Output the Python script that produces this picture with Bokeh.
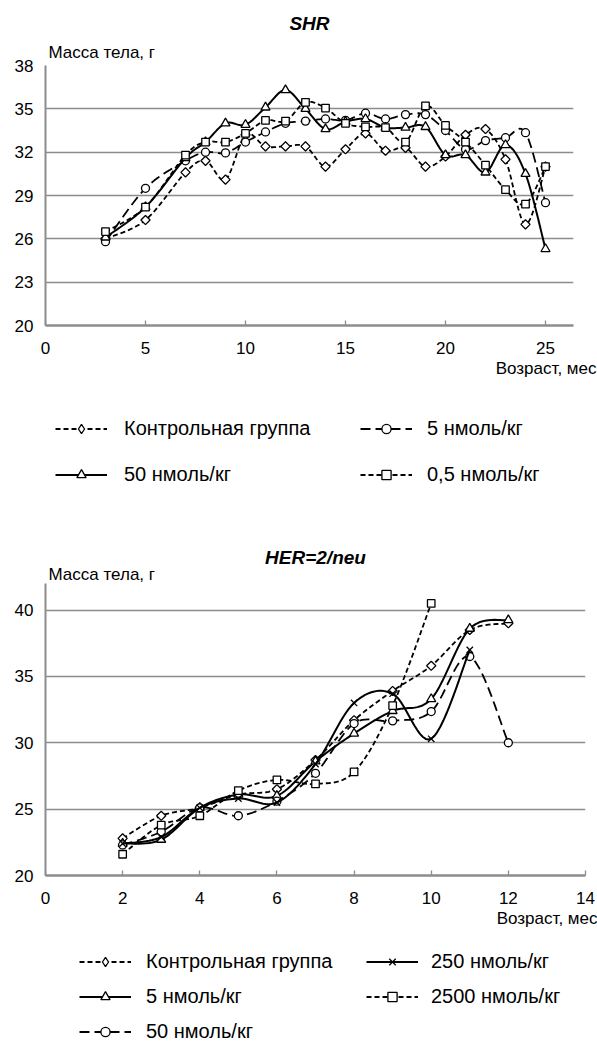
import numpy as np
from bokeh.plotting import figure
from bokeh.models import FixedTicker, Range1d, Title, Legend, LegendItem
from bokeh.layouts import column
from bokeh.embed import file_html
from bokeh.resources import INLINE

FONT = "Liberation Sans"
GRID = "#8c8c8c"

# ---- SHR: body mass (g) by age (months) ----
shr_months = [3, 5, 7, 8, 9, 10, 11, 12, 13, 14, 15, 16, 17, 18, 19, 20, 21, 22, 23, 24, 25]
shr_control = [26.0, 27.3, 30.6, 31.4, 30.1, 33.2, 32.4, 32.4, 32.4, 31.0, 32.2, 33.3, 32.1,
               32.3, 31.0, 31.7, 33.2, 33.6, 31.5, 27.0, 31.0]
shr_5 = [25.8, 29.5, 31.4, 32.0, 31.95, 32.7, 33.4, 34.0, 34.15, 34.3, 34.2, 34.7, 34.3,
         34.6, 34.6, 33.5, 32.2, 32.8, 33.0, 33.35, 28.5]
shr_50 = [26.1, 28.2, 31.6, 32.7, 34.0, 33.9, 35.1, 36.3, 35.0, 33.6, 34.1, 34.3, 33.7,
          33.7, 33.75, 31.8, 31.8, 30.6, 32.5, 30.5, 25.3]
shr_05 = [26.5, 28.2, 31.8, 32.7, 32.7, 33.3, 34.2, 34.15, 35.45, 35.05, 34.0, 33.75, 33.7,
          32.7, 35.2, 33.85, 32.7, 31.1, 29.4, 28.4, 31.0]
shr_xticks = [0, 5, 10, 15, 20, 25]
shr_yticks = [20, 23, 26, 29, 32, 35, 38]

# ---- HER-2/neu: body mass (g) by age (months) ----
her_months = [2, 3, 4, 5, 6, 7, 8, 9, 10, 11, 12]
her_control = [22.8, 24.5, 25.1, 26.1, 26.5, 28.7, 31.7, 33.9, 35.8, 38.5, 39.0]
her_5 = [22.4, 22.7, 25.1, 26.1, 26.0, 28.6, 30.7, 32.4, 33.3, 38.6, 39.25]
her_50 = [22.3, 23.3, 25.1, 24.5, 25.6, 27.7, 31.45, 31.65, 32.35, 36.5, 30.0]
her_250_months = [2, 3, 4, 5, 6, 7, 8, 9, 10, 11]
her_250 = [22.4, 22.9, 25.1, 25.8, 25.5, 28.4, 33.0, 33.7, 30.3, 37.0]
her_2500_months = [2, 3, 4, 5, 6, 7, 8, 9, 10]
her_2500 = [21.6, 23.8, 24.5, 26.4, 27.2, 26.9, 27.8, 32.8, 40.5]
her_xticks = [0, 2, 4, 6, 8, 10, 12, 14]
her_yticks = [20, 25, 30, 35, 40]

SHORT = "5 3"
LONG = "10 5"
SOLID = "solid"
LINE_W = {SHORT: 1.8, LONG: 1.8, SOLID: 2.0}


def smooth(xs, ys, steps=14):
    """Smoothed path through the points (Catmull-Rom as cubic Bezier)."""
    x = np.asarray(xs, float)
    y = np.asarray(ys, float)
    px = np.concatenate([[x[0]], x, [x[-1]]])
    py = np.concatenate([[y[0]], y, [y[-1]]])
    out_x, out_y = [x[0]], [y[0]]
    t = np.linspace(0, 1, steps + 1)[1:]
    for i in range(len(x) - 1):
        p0 = np.array([px[i], py[i]])
        p1 = np.array([px[i + 1], py[i + 1]])
        p2 = np.array([px[i + 2], py[i + 2]])
        p3 = np.array([px[i + 3], py[i + 3]])
        c1 = p1 + (p2 - p0) / 6.0
        c2 = p2 - (p3 - p1) / 6.0
        b = ((1 - t) ** 3)[:, None] * p1 + (3 * (1 - t) ** 2 * t)[:, None] * c1 \
            + (3 * (1 - t) * t ** 2)[:, None] * c2 + (t ** 3)[:, None] * p2
        out_x.extend(b[:, 0])
        out_y.extend(b[:, 1])
    return out_x, out_y


# marker name -> (bokeh marker, size, rotation) for the plotted points
MARKERS = {
    "diamond": ("square", 6.5, np.pi / 4),
    "circle": ("circle", 8, 0.0),
    "triangle": ("triangle", 9, 0.0),
    "square": ("square", 7.5, 0.0),
    "x": ("x", 9, 0.0),
}


def draw_series(p, xs, ys, dash, marker):
    sx, sy = smooth(xs, ys)
    p.line(sx, sy, line_color="black", line_width=LINE_W[dash], line_dash=dash,
           line_join="round", line_cap="butt")
    kind, size, angle = MARKERS[marker]
    p.scatter(xs, ys, marker=kind, size=size, angle=angle, fill_color="white",
              line_color="black", line_width=1.3)


def make_chart(title, xr, yr, xticks, yticks, frame_w, frame_h, left, right, top, bottom,
               xlabel_offset, ylabel_standoff, title_standoff):
    p = figure(frame_width=frame_w, frame_height=frame_h, x_range=Range1d(*xr),
               y_range=Range1d(*yr), output_backend="svg", toolbar_location=None,
               title=None, min_border_left=left, min_border_right=right,
               min_border_top=top, min_border_bottom=bottom)
    p.outline_line_color = None
    p.background_fill_color = "white"
    p.border_fill_color = "white"

    p.xgrid.visible = False
    p.ygrid.ticker = FixedTicker(ticks=[t for t in yticks if t > yr[0]])
    p.ygrid.grid_line_color = GRID
    p.ygrid.grid_line_width = 1.3

    xa = p.xaxis[0]
    xa.ticker = FixedTicker(ticks=xticks)
    xa.major_tick_in = 5
    xa.major_tick_out = 0
    xa.minor_tick_line_color = None
    xa.major_tick_line_color = GRID
    xa.major_tick_line_width = 1.3
    xa.axis_line_color = GRID
    xa.axis_line_width = 2.5
    xa.major_label_text_font = FONT
    xa.major_label_text_font_size = "17px"
    xa.major_label_text_color = "black"
    xa.major_label_standoff = 16

    ya = p.yaxis[0]
    ya.ticker = FixedTicker(ticks=yticks)
    ya.major_tick_in = 0
    ya.major_tick_out = 0
    ya.minor_tick_line_color = None
    ya.axis_line_color = GRID
    ya.axis_line_width = 2
    ya.major_label_text_font = FONT
    ya.major_label_text_font_size = "17px"
    ya.major_label_text_color = "black"
    ya.major_label_standoff = 12

    p.add_layout(Title(text="Масса тела, г", align="left", offset=3, standoff=ylabel_standoff,
                       text_font=FONT, text_font_size="17px", text_font_style="normal",
                       text_color="black"), "above")
    p.add_layout(Title(text=title, align="center", standoff=title_standoff,
                       text_font=FONT, text_font_size="19px", text_font_style="bold italic",
                       text_color="black"), "above")
    p.add_layout(Title(text="Возраст, мес", align="right", offset=xlabel_offset, standoff=0,
                       text_font=FONT, text_font_size="17px", text_font_style="normal",
                       text_color="black"), "below")
    return p


# legend samples are drawn unrotated, so the diamond sample uses Bokeh's own diamond
LEGEND_MARKER = {"diamond": "diamond", "circle": "circle", "triangle": "triangle",
                 "square": "square", "x": "x"}
NO_POINT = np.array([np.nan])


def make_legend_panel(height, frame_w, left, right, columns, spacing):
    """Frameless strip under a chart holding its legend columns.

    Each column is (x, y, standoff, entries); x and y are offsets from the strip's
    frame bottom-left corner. The sample renderers hold no drawable point, they only
    carry the line and marker styles for the legend samples.
    """
    f = figure(frame_width=frame_w, frame_height=height, x_range=Range1d(0, 1),
               y_range=Range1d(0, 1), x_axis_type=None, y_axis_type=None,
               output_backend="svg", toolbar_location=None, title=None,
               min_border_left=left, min_border_right=right, min_border_top=0,
               min_border_bottom=0)
    f.outline_line_color = None
    f.xgrid.visible = False
    f.ygrid.visible = False
    f.background_fill_color = "white"
    f.border_fill_color = "white"
    for x, y, standoff, entries in columns:
        items = []
        for label, dash, marker in entries:
            lr = f.line(x=NO_POINT, y=NO_POINT, line_color="black", line_width=LINE_W[dash],
                        line_dash=dash)
            mr = f.scatter(x=NO_POINT, y=NO_POINT, marker=LEGEND_MARKER[marker],
                           fill_color="white", line_color="black", line_width=1.3)
            items.append(LegendItem(label=label, renderers=[lr, mr]))
        leg = Legend(items=items, location=(x, y), orientation="vertical", spacing=spacing,
                     padding=0, margin=0, glyph_width=52, glyph_height=23, label_height=23,
                     label_standoff=standoff, label_text_font=FONT, label_text_font_size="20px",
                     label_text_color="black", border_line_color=None,
                     background_fill_alpha=0)
        f.add_layout(leg)
    return f


# ---- top chart ----
p1 = make_chart("SHR", (0, 26.4), (20, 38), shr_xticks, shr_yticks, 528, 260,
                45, 24, 65, 70, -23, 8, 6)
draw_series(p1, shr_months, shr_control, SHORT, "diamond")
draw_series(p1, shr_months, shr_5, LONG, "circle")
draw_series(p1, shr_months, shr_50, SOLID, "triangle")
draw_series(p1, shr_months, shr_05, SHORT, "square")

leg1 = make_legend_panel(135, 528, 45, 24, [
    (10, 44, 17, [("Контрольная группа", SHORT, "diamond"), ("50 нмоль/кг", SOLID, "triangle")]),
    (315, 44, 15, [("5 нмоль/кг", LONG, "circle"), ("0,5 нмоль/кг", SHORT, "square")]),
], 23)

# ---- bottom chart ----
p2 = make_chart("HER=2/neu", (0, 14), (20, 42), her_xticks, her_yticks, 540, 292,
                44, 13, 53, 60, -12, 0, -10)
draw_series(p2, her_months, her_control, SHORT, "diamond")
draw_series(p2, her_months, her_5, SOLID, "triangle")
draw_series(p2, her_months, her_50, LONG, "circle")
draw_series(p2, her_250_months, her_250, SOLID, "x")
draw_series(p2, her_2500_months, her_2500, SHORT, "square")

leg2 = make_legend_panel(106, 540, 44, 13, [
    (34, -2, 15, [("Контрольная группа", SHORT, "diamond"), ("5 нмоль/кг", SOLID, "triangle"),
                  ("50 нмоль/кг", LONG, "circle")]),
    (321, 33, 13, [("250 нмоль/кг", SOLID, "x"), ("2500 нмоль/кг", SHORT, "square")]),
], 12)

layout = column(p1, leg1, p2, leg2, spacing=0)
open("out.html", "w").write(file_html(layout, INLINE))
